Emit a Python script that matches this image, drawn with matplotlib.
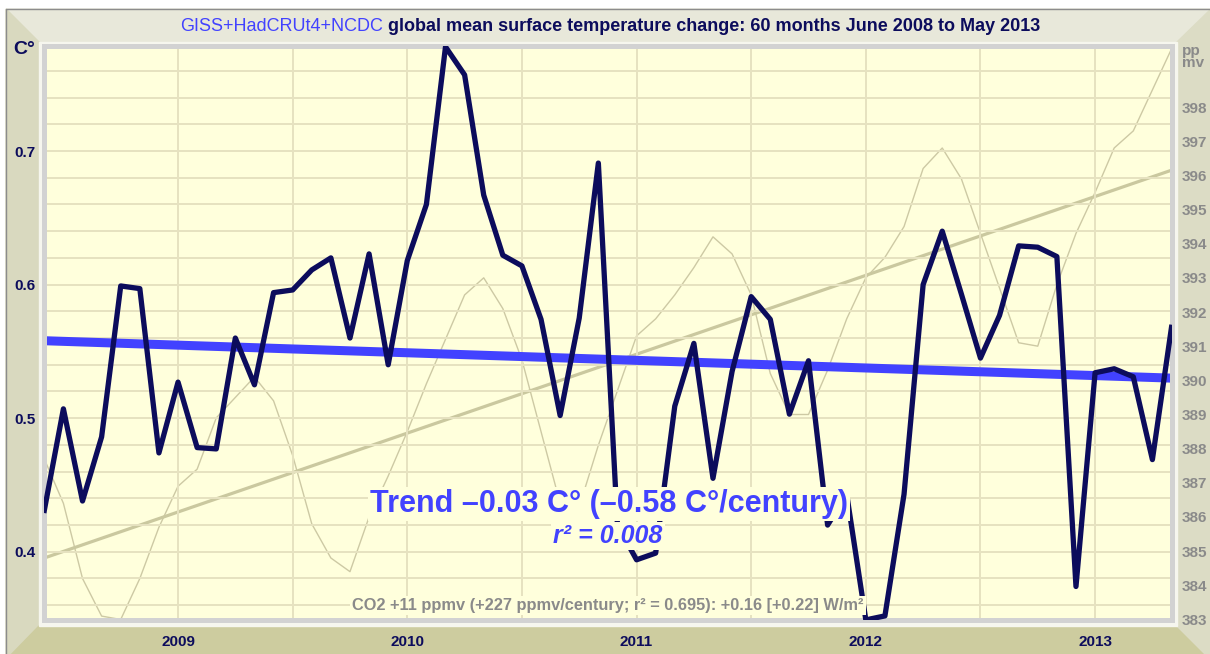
import numpy as np
import matplotlib
matplotlib.use("Agg")
import matplotlib.pyplot as plt
from matplotlib.patches import Polygon, Rectangle

plt.rcParams['font.family'] = ['Liberation Sans', 'DejaVu Sans']

# 60 monthly values, June 2008 .. May 2013
months = np.arange(60)
temp = [0.431, 0.507, 0.438, 0.486, 0.599, 0.597, 0.474, 0.527, 0.478, 0.477,
        0.560, 0.525, 0.594, 0.596, 0.611, 0.620, 0.560, 0.623, 0.540, 0.618,
        0.660, 0.778, 0.757, 0.667, 0.622, 0.614, 0.574, 0.502, 0.575, 0.691,
        0.420, 0.394, 0.399, 0.509, 0.556, 0.455, 0.535, 0.591, 0.574, 0.503,
        0.543, 0.420, 0.443, 0.349, 0.352, 0.443, 0.600, 0.640, 0.593, 0.545,
        0.577, 0.629, 0.628, 0.621, 0.374, 0.534, 0.537, 0.531, 0.469, 0.568]
co2 = [387.7, 386.4, 384.2, 383.1, 383.0, 384.2, 385.7, 386.9, 387.4, 388.9,
       389.5, 390.1, 389.4, 387.8, 385.8, 384.8, 384.4, 386.0, 387.2, 388.5,
       389.9, 391.2, 392.5, 393.0, 392.1, 390.6, 388.5, 386.4, 386.3, 388.1,
       389.7, 391.3, 391.8, 392.5, 393.3, 394.2, 393.7, 392.5, 390.2, 389.0,
       389.0, 390.3, 391.8, 393.0, 393.6, 394.5, 396.2, 396.8, 395.9, 394.3,
       392.7, 391.1, 391.0, 392.8, 394.3, 395.5, 396.8, 397.3, 398.5, 399.7]
temp_trend = [0.558, 0.530]
co2_trend = [384.8, 396.15]

year_ticks = [7, 19, 31, 43, 55]
year_labels = ['2009', '2010', '2011', '2012', '2013']
half_year_ticks = [13, 25, 37, 49]
temp_ticks = [0.4, 0.5, 0.6, 0.7]
co2_ticks = list(range(383, 399))

NAVY = '#0c0c5c'
BLUE = '#4242ff'
GREY = '#8a8a8a'
YELLOW = '#ffffdc'
GRID = '#e6e2c0'

W, H = 1210, 654
fig = plt.figure(figsize=(W / 100, H / 100), dpi=100)

# frame drawn in pixel coordinates
bg = fig.add_axes([0, 0, 1, 1])
bg.set_xlim(0, W)
bg.set_ylim(H, 0)
bg.axis('off')
oL, oT, oR, oB = 6, 9, 1211, 660
iL, iT, iR, iB = 39, 42, 1177, 626
bg.add_patch(Polygon([(oL, oT), (oR, oT), (iR, iT), (iL, iT)], color='#e8e8da'))
bg.add_patch(Polygon([(oL, oT), (iL, iT), (iL, iB), (oL, oB)], color='#d9d9bf'))
bg.add_patch(Polygon([(oL, oB), (iL, iB), (iR, iB), (oR, oB)], color='#cdcc9f'))
bg.add_patch(Polygon([(oR, oT), (iR, iT), (iR, iB), (oR, oB)], color='#dcdcc5'))
bg.plot([oL, oL, oR], [oB, oT, oT], color='#8c8c8c', lw=1)
bg.add_patch(Rectangle((iL, iT), iR - iL, iB - iT, color='#f6f6ee'))

t1 = bg.text(180, 31, 'GISS+HadCRUt4+NCDC', color=BLUE, fontsize=13,
             ha='left', va='baseline')
bg.annotate(' global mean surface temperature change: 60 months June 2008 to May 2013',
            xy=(1, 0), xycoords=t1, ha='left', va='bottom', color=NAVY,
            fontsize=13, fontweight='bold')
bg.text(24, 54, 'C°', color=NAVY, fontsize=14, fontweight='bold', ha='center', va='baseline')
bg.text(1182, 44, 'pp\nmv', color=GREY, fontsize=11, fontweight='bold',
        ha='left', va='top', linespacing=0.8)

# plot area
L, R, T, B = 44.3, 1171.5, 45.5, 619.5
ax = fig.add_axes([L / W, 1 - B / H, (R - L) / W, (B - T) / H])
ax2 = ax.twinx()
ax.set_zorder(ax2.get_zorder() + 1)
ax.patch.set_visible(False)
ax2.patch.set_visible(True)
ax2.set_facecolor(YELLOW)

ax.set_xlim(0, 59)
ax.set_ylim(0.3493, 0.779)
ax2.set_ylim(383.04, 399.80)

ax2.plot(months, co2, color='#cdc9a4', lw=1.0)
ax2.plot([months[0], months[-1]], co2_trend, color='#cac89f', lw=2.3)

ax.plot([months[0], months[-1]], temp_trend, color=BLUE, lw=6.5,
        solid_capstyle='butt', zorder=2.4)
ax.plot(months, temp, color=NAVY, lw=3.8, zorder=2.6)

ax.set_xticks(year_ticks)
ax.set_xticklabels(year_labels)
ax.set_xticks(half_year_ticks, minor=True)
ax.set_yticks(temp_ticks)
ax.set_yticklabels([f'{v:.1f}' for v in temp_ticks])
ax.set_yticks(np.arange(0.36, 0.77, 0.02), minor=True)
ax.grid(which='both', color=GRID, lw=1.4)
ax.set_axisbelow(True)
ax.tick_params(which='both', length=0)
ax.tick_params(axis='x', pad=11, labelsize=11, labelcolor=NAVY)
ax.tick_params(axis='y', pad=6.5, labelsize=11, labelcolor=NAVY)
for lab in ax.get_xticklabels() + ax.get_yticklabels():
    lab.set_fontweight('bold')

ax2.set_yticks(co2_ticks)
ax2.tick_params(length=0, pad=7, labelsize=11, labelcolor=GREY)
for lab in ax2.get_yticklabels():
    lab.set_fontweight('bold')

for s in ax.spines.values():
    s.set_color('#d2d2d2')
    s.set_linewidth(3.6)
for s in ax2.spines.values():
    s.set_visible(False)


def px(x, y):
    return (x - L) / (R - L), (B - y) / (B - T)


box = dict(facecolor=YELLOW, edgecolor='none', pad=1.5)
ax.text(*px(609, 512), 'Trend \u20130.03 C° (\u20130.58 C°/century)', transform=ax.transAxes,
        ha='center', va='baseline', color=BLUE, fontsize=22, fontweight='bold', bbox=box)
ax.text(*px(608, 543), 'r² = 0.008', transform=ax.transAxes, ha='center', va='baseline',
        color=BLUE, fontsize=18, fontweight='bold', style='italic', bbox=box)
ax.text(*px(608, 610), 'CO2 +11 ppmv (+227 ppmv/century; r² = 0.695): +0.16 [+0.22] W/m²',
        transform=ax.transAxes, ha='center', va='baseline', color=GREY, fontsize=11.8,
        fontweight='bold', bbox=box)

fig.savefig('out.png', dpi=100)
